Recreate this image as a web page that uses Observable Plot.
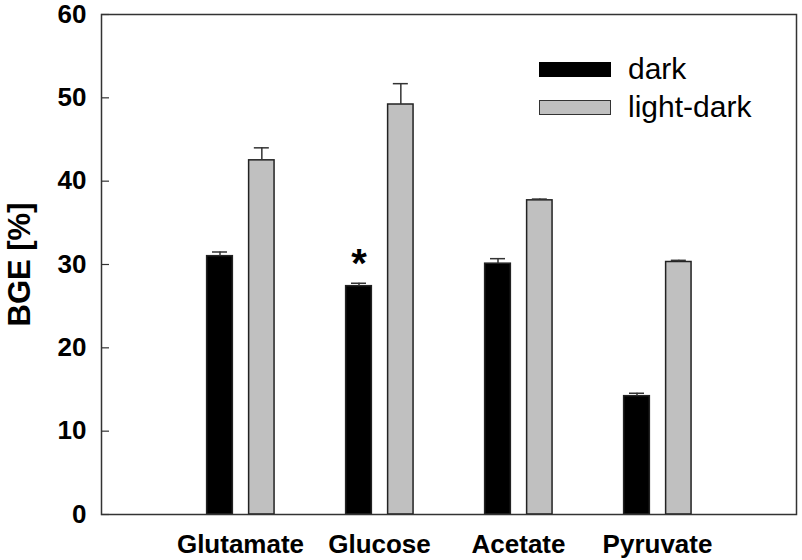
<!DOCTYPE html>
<html>
<head>
<meta charset="utf-8">
<script src="https://cdn.jsdelivr.net/npm/d3@7"></script>
<script src="https://cdn.jsdelivr.net/npm/@observablehq/plot@0.6"></script>
<style>
  html, body { margin: 0; padding: 0; background: #fff; }
  #wrap { position: relative; width: 802px; height: 560px; font-family: "Liberation Sans", Arial, sans-serif; }
  #legend { position: absolute; left: 539px; top: 50px; }
  .item { display: flex; align-items: center; height: 38px; }
  .sw { width: 72px; height: 15px; box-sizing: border-box; margin-right: 17px; }
  .lab { font-size: 30px; color: #000; line-height: 1; }
</style>
</head>
<body>
<div id="wrap"><div id="legend"></div></div>
<script>
const categories = ["Glutamate", "Glucose", "Acetate", "Pyruvate"];
const series = ["dark", "light-dark"];
const darkValues = [31.0, 27.4, 30.1, 14.2];
const darkErrors = [0.5, 0.35, 0.6, 0.35];
const lightValues = [42.5, 49.2, 37.7, 30.3];
const lightErrors = [1.5, 2.5, 0.15, 0.2];
const significance = ["", "*", "", ""];
const yTicks = [0, 10, 20, 30, 40, 50, 60];

const colors = {"dark": "#000000", "light-dark": "#c0c0c0"};
const offsets = {"dark": [-0.24, -0.055], "light-dark": [0.062, 0.245]};
const capHalf = 0.054;

const rows = [];
categories.forEach((c, i) => {
  [[series[0], darkValues[i], darkErrors[i]], [series[1], lightValues[i], lightErrors[i]]].forEach(([s, v, e]) => {
    const pos = i + 1;
    const [o1, o2] = offsets[s];
    rows.push({category: c, series: s, value: v, err: e, x1: pos + o1, x2: pos + o2, xc: pos + (o1 + o2) / 2, sig: s === "dark" ? significance[i] : ""});
  });
});

const font = '"Liberation Sans", Arial, sans-serif';

const chart = Plot.plot({
  width: 802,
  height: 560,
  marginLeft: 101,
  marginRight: 6,
  marginTop: 14,
  marginBottom: 46,
  style: {fontFamily: font, background: "#fff", overflow: "visible"},
  x: {type: "linear", domain: [0, categories.length + 1]},
  y: {domain: [0, 60]},
  marks: [
    Plot.rect(rows, {x1: "x1", x2: "x2", y1: 0, y2: "value", fill: d => colors[d.series], stroke: "#222", strokeWidth: 1.5}),
    Plot.ruleX(rows, {x: "xc", y1: "value", y2: d => d.value + d.err, stroke: "#333", strokeWidth: 1.5}),
    Plot.ruleY(rows, {y: d => d.value + d.err, x1: d => d.xc - capHalf, x2: d => d.xc + capHalf, stroke: "#333", strokeWidth: 1.5}),
    Plot.text(rows.filter(d => d.sig), {x: "xc", y: d => d.value + d.err, text: "sig", dy: -19, fontSize: 40, fontWeight: "bold", fill: "#000"}),
    Plot.axisY({ticks: yTicks, tickSize: 0, tickPadding: 15, fontSize: 26, fontWeight: "bold", fill: "#000",
      label: "BGE [%]", labelAnchor: "center", labelArrow: "none", labelOffset: 94}),
    Plot.axisY({ticks: yTicks, tickSize: -8, text: null, label: null, stroke: "#333", strokeWidth: 1.2}),
    Plot.axisX({ticks: d3.range(1, categories.length + 1), tickFormat: i => categories[i - 1], tickSize: 0, tickPadding: 20, fontSize: 26, fontWeight: "bold", fill: "#000", label: null}),
    Plot.frame({stroke: "#333", strokeWidth: 1.5})
  ]
});

chart.querySelectorAll("[aria-label='y-axis label'] text, [aria-label='y-axis label']").forEach(el => {
  el.setAttribute("font-size", 31);
  el.setAttribute("font-weight", "bold");
  el.setAttribute("fill", "#000");
});

document.getElementById("wrap").prepend(chart);

const legend = document.getElementById("legend");
series.forEach(s => {
  const item = document.createElement("div");
  item.className = "item";
  const sw = document.createElement("div");
  sw.className = "sw";
  sw.style.background = colors[s];
  sw.style.border = s === "dark" ? "none" : "1.5px solid #333";
  const lab = document.createElement("span");
  lab.className = "lab";
  lab.textContent = s;
  item.append(sw, lab);
  legend.append(item);
});
</script>
</body>
</html>
